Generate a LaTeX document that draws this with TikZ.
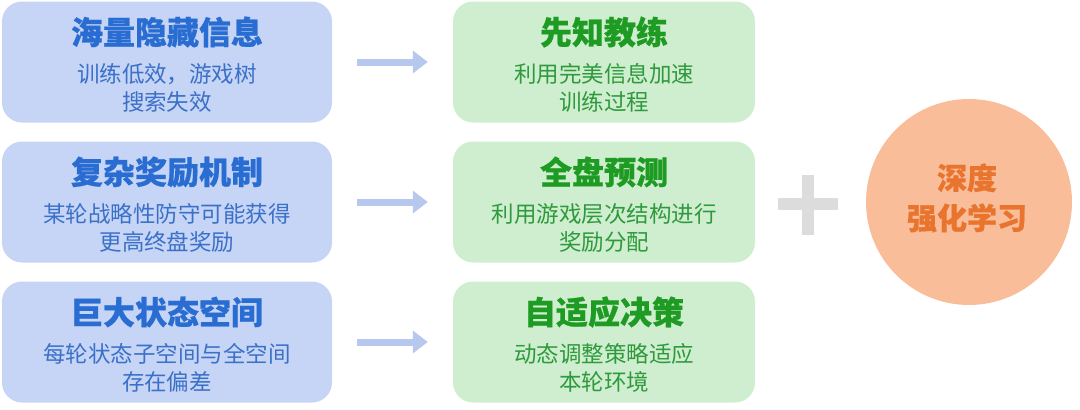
\documentclass[tikz,border=0pt]{standalone}
\usepackage{fontspec}
\setmainfont{Noto Sans CJK SC}
\newfontfamily\heavy[FakeBold=0.6]{Noto Sans CJK SC}
\usetikzlibrary{arrows.meta}
\definecolor{bfill}{HTML}{C6D5F6}
\definecolor{btitle}{HTML}{2A6DD2}
\definecolor{btext}{HTML}{3B70C8}
\definecolor{gfill}{HTML}{CFEDCF}
\definecolor{gtitle}{HTML}{1E9B22}
\definecolor{gtext}{HTML}{2E9A3C}
\definecolor{arrowc}{HTML}{B7C8EE}
\definecolor{plusc}{HTML}{DCDCDC}
\definecolor{circc}{HTML}{F9BD9A}
\definecolor{otext}{HTML}{E8742E}
\tikzset{
  box/.style={rounded corners=20pt, minimum height=121pt, inner sep=0pt},
  bluebox/.style={box, fill=bfill, minimum width=330pt},
  greenbox/.style={box, fill=gfill, minimum width=302pt},
  ttl/.style={inner sep=0pt, font=\fontsize{32}{34}\heavy\bfseries},
  sub/.style={inner sep=0pt, align=center, font=\fontsize{22.5}{28.5}\selectfont},
  flow/.style={arrowc, line width=7pt, -{Triangle[length=15pt,width=22pt]}, shorten <=25pt, shorten >=25pt},
}
\begin{document}
\begin{tikzpicture}[x=1pt,y=-1pt]
\useasboundingbox (0,0) rectangle (1080,410);
% left boxes
\node[bluebox] (b1) at (167,62) {};
\node[bluebox] (b2) at (167,202) {};
\node[bluebox] (b3) at (167,342) {};
% green boxes
\node[greenbox] (g1) at (604,62) {};
\node[greenbox] (g2) at (604,202) {};
\node[greenbox] (g3) at (604,342) {};
% titles and texts
\node[ttl, text=btitle] (bt1) at (167,32) {海量隐藏信息};
\node[sub, text=btext] (bs1) at (167,88) {训练低效，游戏树\\搜索失效};
\node[ttl, text=btitle] (bt2) at (167,172) {复杂奖励机制};
\node[sub, text=btext] (bs2) at (167,228) {某轮战略性防守可能获得\\更高终盘奖励};
\node[ttl, text=btitle] (bt3) at (167,312) {巨大状态空间};
\node[sub, text=btext] (bs3) at (167,368) {每轮状态子空间与全空间\\存在偏差};
\node[ttl, text=gtitle] (gt1) at (604,32) {先知教练};
\node[sub, text=gtext] (gs1) at (604,88) {利用完美信息加速\\训练过程};
\node[ttl, text=gtitle] (gt2) at (604,172) {全盘预测};
\node[sub, text=gtext] (gs2) at (604,228) {利用游戏层次结构进行\\奖励分配};
\node[ttl, text=gtitle] (gt3) at (604,312) {自适应决策};
\node[sub, text=gtext] (gs3) at (604,368) {动态调整策略适应\\本轮环境};
% arrows
\draw[flow] (b1.east) -- (g1.west);
\draw[flow] (b2.east) -- (g2.west);
\draw[flow] (b3.east) -- (g3.west);
% plus
\fill[plusc] (778,198) rectangle (838,210);
\fill[plusc] (802,175) rectangle (814,235);
% circle
\node[circle, fill=circc, minimum size=206pt, inner sep=0pt] (c) at (969,202) {};
\node[inner sep=0pt, align=center, text=otext, font=\fontsize{30}{40}\heavy\bfseries] (ct) at (967,198) {深度\\强化学习};
\end{tikzpicture}
\end{document}
